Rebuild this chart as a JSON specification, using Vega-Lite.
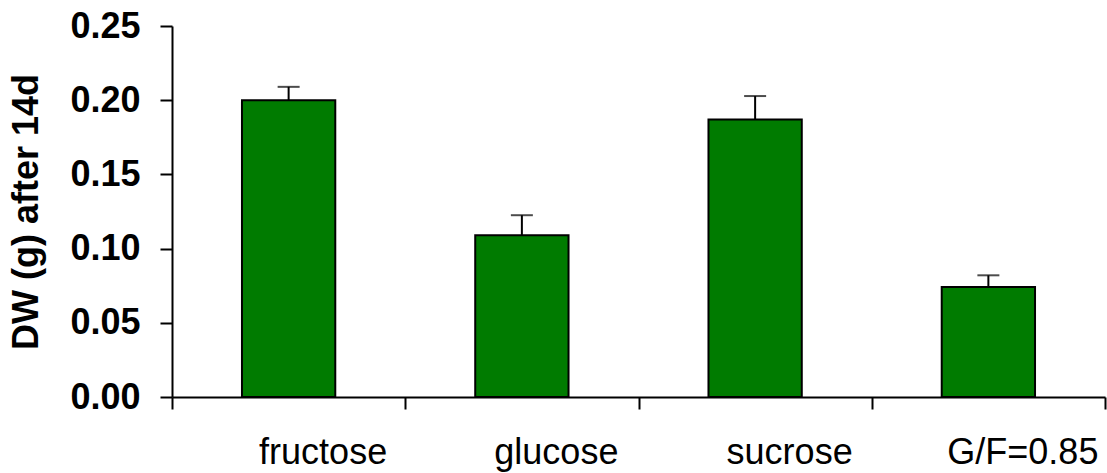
{
  "$schema": "https://vega.github.io/schema/vega-lite/v6.json",
  "width": 933,
  "height": 371,
  "autosize": {"type": "none"},
  "padding": {"left": 172, "top": 26, "right": 2, "bottom": 76},
  "background": "white",
  "config": {"view": {"stroke": null}, "font": "Liberation Sans"},
  "data": {
    "values": [
      {"sugar": "fructose", "dw": 0.200, "upper": 0.209},
      {"sugar": "glucose", "dw": 0.109, "upper": 0.1225},
      {"sugar": "sucrose", "dw": 0.187, "upper": 0.2028},
      {"sugar": "G/F=0.85", "dw": 0.0742, "upper": 0.082}
    ]
  },
  "encoding": {
    "x": {
      "field": "sugar",
      "type": "nominal",
      "sort": null,
      "scale": {"paddingInner": 0, "paddingOuter": 0},
      "axis": {
        "title": null,
        "labelAngle": 0,
        "tickBand": "extent",
        "labelOffset": 34,
        "labelFont": "Liberation Sans",
        "labelFontSize": 36,
        "labelColor": "black",
        "labelPadding": 26,
        "tickSize": 12,
        "tickWidth": 2,
        "tickColor": "black",
        "domainColor": "black",
        "domainWidth": 2,
        "grid": false
      }
    }
  },
  "layer": [
    {
      "mark": {"type": "bar", "width": {"band": 0.4}, "fill": "#007b00", "stroke": "black", "strokeWidth": 2},
      "encoding": {
        "y": {
          "field": "dw",
          "type": "quantitative",
          "scale": {"domain": [0, 0.25], "nice": false},
          "axis": {
            "title": "DW (g) after 14d",
            "titleFont": "Liberation Sans",
            "titleFontSize": 36,
            "titleFontWeight": "bold",
            "titleColor": "black",
            "titlePadding": 24,
            "values": [0, 0.05, 0.1, 0.15, 0.2, 0.25],
            "format": ".2f",
            "labelFont": "Liberation Sans",
            "labelFontSize": 36,
            "labelFontWeight": "bold",
            "labelColor": "black",
            "labelPadding": 20,
            "tickSize": 12,
            "tickWidth": 2,
            "tickColor": "black",
            "domainColor": "black",
            "domainWidth": 2,
            "grid": false
          }
        }
      }
    },
    {
      "mark": {"type": "rule", "color": "black", "strokeWidth": 2},
      "encoding": {
        "y": {"field": "dw", "type": "quantitative"},
        "y2": {"field": "upper"}
      }
    },
    {
      "mark": {"type": "tick", "color": "black", "thickness": 2, "size": 22},
      "encoding": {
        "y": {"field": "upper", "type": "quantitative"}
      }
    }
  ]
}
